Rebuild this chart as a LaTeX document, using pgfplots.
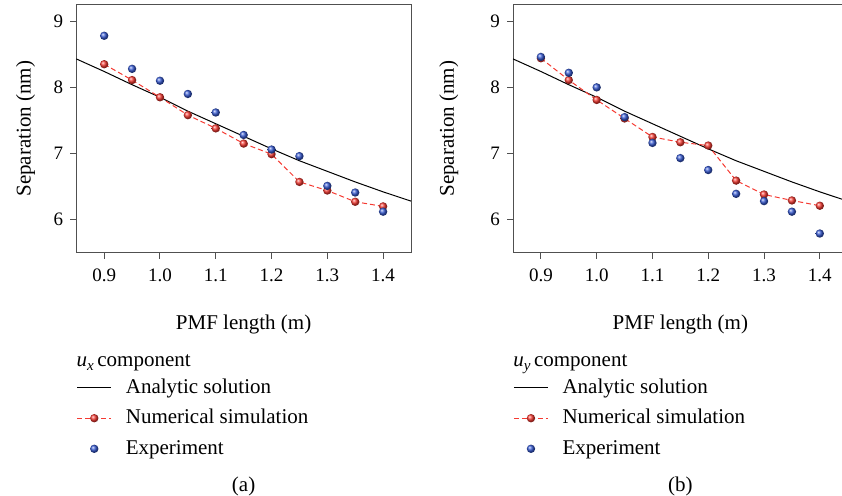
\documentclass[border=0pt]{standalone}
\usepackage{fontspec}
\setmainfont{Liberation Serif}
\usepackage{pgfplots}
\pgfplotsset{compat=1.18}
\definecolor{simred}{RGB}{245,58,50}
\definecolor{expblue}{RGB}{55,90,210}
\definecolor{axgray}{RGB}{80,80,80}
\pgfplotstableread{
x y
0.85 8.43
0.90 8.24
0.95 8.04
1.00 7.85
1.05 7.64
1.10 7.45
1.15 7.26
1.20 7.07
1.25 6.89
1.30 6.73
1.35 6.57
1.40 6.42
1.45 6.28
}\analytic
\pgfplotstableread{
x num exp
0.90 8.35 8.78
0.95 8.11 8.28
1.00 7.85 8.10
1.05 7.58 7.90
1.10 7.38 7.62
1.15 7.15 7.28
1.20 6.99 7.06
1.25 6.57 6.96
1.30 6.44 6.51
1.35 6.27 6.41
1.40 6.20 6.12
}\ux
\pgfplotstableread{
x num exp
0.90 8.44 8.46
0.95 8.11 8.22
1.00 7.81 8.00
1.05 7.53 7.55
1.10 7.25 7.16
1.15 7.17 6.93
1.20 7.12 6.75
1.25 6.59 6.39
1.30 6.38 6.28
1.35 6.29 6.12
1.40 6.21 5.79
}\uy
\newcommand{\lblfont}{\fontsize{10.5}{12}\selectfont}
\pgfplotsset{
  myaxis/.style={
    scale only axis, width=167.35pt, height=124pt,
    xmin=0.85, xmax=1.45, ymin=5.5, ymax=9.25,
    xtick={0.9,1.0,1.1,1.2,1.3,1.4},
    ytick={6,7,8,9},
    tick align=outside, xtick pos=bottom, ytick pos=left,
    major tick length=3pt,
    axis line style={axgray, line width=0.5pt},
    every tick/.style={axgray, line width=0.5pt},
    tick label style={font=\fontsize{9.5}{11}\selectfont},
    /pgf/number format/assume math mode=true,
    x tick label style={yshift=-1.5pt, /pgf/number format/fixed, /pgf/number format/fixed zerofill, /pgf/number format/precision=1},
    label style={font=\lblfont},
    xlabel={PMF length (m)},
    ylabel={Separation (nm)},
    xlabel style={at={(axis description cs:0.5,0)}, anchor=base, yshift=-38.2pt},
    clip=false,
    legend cell align=left,
    legend style={draw=none, fill=none, at={(axis description cs:0,-0.5)}, anchor=north west,
      inner sep=0pt, row sep=4.8pt, font=\lblfont,
      nodes={inner ysep=0pt, inner xsep=0pt, text height=8pt, text depth=2.5pt},
      /tikz/every odd column/.append style={column sep=7pt}},
  },
  anal/.style={black, line width=0.5pt, no marks},
  num/.style={simred, line width=0.5pt, dash pattern=on 2.5pt off 1.5pt, mark=ball, mark size=2.1pt, mark options={solid, ball color=simred, draw opacity=0}},
  expt/.style={only marks, mark=ball, mark size=2.1pt, mark options={ball color=expblue, draw opacity=0}},
}
\begin{document}
\begin{tikzpicture}
\begin{axis}[myaxis, at={(38.15pt,121.65pt)}, anchor=south west,
  ylabel style={at={(axis description cs:-0.1362,0.5)}, anchor=base}]
\addplot[anal] table[x=x,y=y] {\analytic};
\addlegendentry{Analytic solution}
\addplot[num] table[x=x,y=num] {\ux};
\addlegendentry{Numerical simulation}
\addplot[expt] table[x=x,y=exp] {\ux};
\addlegendentry{Experiment}
\node[anchor=base west, font=\lblfont, inner sep=0pt] at (axis description cs:0,-0.4597) {\textit{u}\raisebox{-0.4ex}{\fontsize{7.5}{8}\selectfont\textit{x}}\,component};
\node[anchor=base, font=\lblfont, inner sep=0pt] at (axis description cs:0.5,-0.962) {(a)};
\end{axis}
\begin{axis}[myaxis, at={(256.5pt,121.65pt)}, anchor=south west,
  ylabel style={at={(axis description cs:-0.1763,0.5)}, anchor=base}]
\addplot[anal] table[x=x,y=y] {\analytic};
\addlegendentry{Analytic solution}
\addplot[num] table[x=x,y=num] {\uy};
\addlegendentry{Numerical simulation}
\addplot[expt] table[x=x,y=exp] {\uy};
\addlegendentry{Experiment}
\node[anchor=base west, font=\lblfont, inner sep=0pt] at (axis description cs:0,-0.4597) {\textit{u}\raisebox{-0.4ex}{\fontsize{7.5}{8}\selectfont\textit{y}}\,component};
\node[anchor=base, font=\lblfont, inner sep=0pt] at (axis description cs:0.5,-0.962) {(b)};
\end{axis}
\pgfresetboundingbox
\path[use as bounding box] (0,0) rectangle (421pt,248pt);
\end{tikzpicture}
\end{document}
